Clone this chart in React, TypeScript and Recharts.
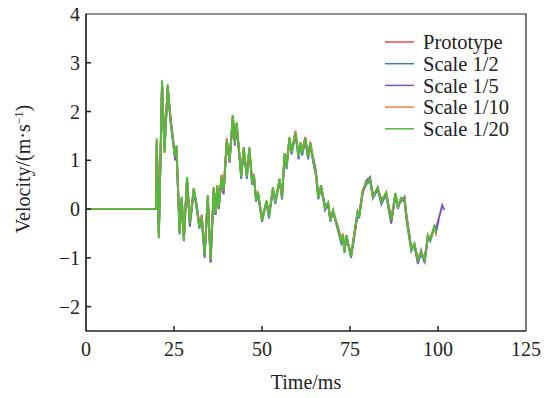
import { LineChart, Line, XAxis, YAxis, Legend, ReferenceArea } from "recharts";

// time samples (ms), shared by every series
const TIME = [
  0, 19.9,
  20.1, 20.7, 21.6, 22.3, 23.2,
  24.0, 24.9, 25.3, 25.7, 26.6,
  27.2, 27.8, 28.7, 29.5, 30.6,
  31.2, 32.2, 32.9, 33.7, 34.6,
  35.4, 36.3, 36.8, 37.3, 37.7,
  38.5, 39.1, 40.0, 40.8, 41.7,
  42.3, 42.8, 44.1, 44.8, 45.7,
  46.4, 47.2, 47.7, 48.3, 48.9,
  50.0, 51.3, 52.0, 53.1, 53.8,
  55.0, 55.7, 56.4, 57.0, 57.8,
  58.4, 59.5, 60.4, 60.9, 61.4,
  62.3, 63.1, 63.7, 64.7, 65.3,
  66.0, 66.8, 67.9, 68.8, 69.4,
  70.2, 71.5, 72.5, 73.0, 73.4,
  74.0, 75.3, 75.8, 77.2, 77.6,
  78.6, 79.6, 80.7, 81.5, 82.9,
  83.9, 85.3, 86.7, 87.9, 88.6,
  89.5, 90.5, 91.0, 92.4, 93.3,
  94.3, 95.2, 96.2, 97.1, 97.8,
  99.0, 99.5, 100.2, 101.2, 101.8,
];

const PROTOTYPE = [
  0, 0,
  1.40, -0.55, 2.60, 1.20, 2.52,
  1.85, 1.28, 1.10, 1.28, -0.45,
  0.22, -0.60, 0.62, -0.25, 0.40,
  0.18, -0.33, -0.12, -0.90, 0.25,
  -1.00, 0.42, -0.05, 0.46, 0.08,
  0.70, 0.36, 1.45, 0.96, 1.90,
  1.38, 1.74, 0.70, 1.24, 0.70,
  1.24, 0.56, 0.72, 0.22, 0.32,
  -0.20, 0.15, -0.12, 0.42, 0.18,
  0.60, 0.26, 1.12, 0.90, 1.45,
  1.18, 1.60, 1.10, 1.34, 1.18,
  1.48, 1.05, 1.38, 0.96, 0.72,
  0.26, 0.46, 0.05, 0.12, -0.20,
  -0.05, -0.36, -0.65, -0.50, -0.85,
  -0.55, -0.95, -0.72, -0.05, -0.12,
  0.36, 0.55, 0.60, 0.28, 0.42,
  0.18, 0.32, -0.20, 0.30, 0.07,
  0.20, 0.22, -0.12, -0.80, -0.72,
  -1.00, -0.90, -1.02, -0.55, -0.60,
  -0.36, -0.48, null, null, null,
];

const SCALE_2 = [
  0, 0,
  1.38, -0.58, 2.58, 1.18, 2.50,
  1.80, 1.25, 1.05, 1.25, -0.52,
  0.20, -0.66, 0.60, -0.32, 0.38,
  0.12, -0.40, -0.18, -0.96, 0.24,
  -1.08, 0.40, -0.10, 0.44, 0.02,
  0.62, 0.34, 1.38, 0.95, 1.88,
  1.30, 1.72, 0.62, 1.22, 0.62,
  1.22, 0.50, 0.66, 0.15, 0.30,
  -0.26, 0.14, -0.19, 0.40, 0.10,
  0.58, 0.20, 1.10, 0.82, 1.44,
  1.12, 1.52, 1.02, 1.32, 1.10,
  1.40, 1.02, 1.30, 0.90, 0.70,
  0.20, 0.44, -0.02, 0.10, -0.26,
  -0.06, -0.42, -0.70, -0.57, -0.90,
  -0.57, -1.00, -0.74, -0.06, -0.19,
  0.35, 0.50, 0.58, 0.22, 0.40,
  0.10, 0.30, -0.26, 0.28, 0.00,
  0.20, 0.16, -0.20, -0.86, -0.74,
  -1.08, -0.92, -1.08, -0.58, -0.66,
  -0.36, -0.46, -0.22, null, null,
];

const SCALE_5 = [
  0, 0,
  1.30, -0.50, 2.55, 1.25, 2.48,
  1.90, 1.35, 1.00, 1.20, -0.42,
  0.18, -0.58, 0.58, -0.36, 0.35,
  0.22, -0.30, -0.25, -1.00, 0.20,
  -1.10, 0.38, -0.12, 0.42, 0.00,
  0.60, 0.30, 1.35, 1.05, 1.84,
  1.42, 1.70, 0.72, 1.20, 0.72,
  1.20, 0.58, 0.64, 0.24, 0.28,
  -0.18, 0.12, -0.10, 0.36, 0.20,
  0.55, 0.28, 1.05, 0.95, 1.40,
  1.22, 1.50, 1.15, 1.30, 1.20,
  1.42, 1.12, 1.30, 1.00, 0.80,
  0.30, 0.42, 0.08, 0.08, -0.18,
  -0.08, -0.34, -0.62, -0.58, -0.82,
  -0.60, -0.92, -0.78, -0.10, -0.10,
  0.32, 0.58, 0.66, 0.30, 0.40,
  0.20, 0.28, -0.30, 0.26, 0.10,
  0.16, 0.25, -0.10, -0.78, -0.76,
  -1.12, -0.85, -1.10, -0.62, -0.58,
  -0.40, -0.38, -0.20, 0.08, -0.02,
];

const SCALE_10 = [
  0, 0,
  1.42, -0.58, 2.62, 1.16, 2.54,
  1.83, 1.30, 1.08, 1.30, -0.48,
  0.24, -0.62, 0.64, -0.28, 0.42,
  0.16, -0.36, -0.15, -0.92, 0.27,
  -1.03, 0.44, -0.07, 0.48, 0.05,
  0.68, 0.38, 1.43, 0.99, 1.92,
  1.36, 1.76, 0.68, 1.26, 0.68,
  1.26, 0.54, 0.71, 0.20, 0.34,
  -0.22, 0.17, -0.14, 0.44, 0.16,
  0.62, 0.24, 1.14, 0.88, 1.47,
  1.16, 1.58, 1.08, 1.36, 1.16,
  1.46, 1.06, 1.36, 0.95, 0.74,
  0.24, 0.48, 0.03, 0.13, -0.22,
  -0.03, -0.38, -0.67, -0.52, -0.87,
  -0.54, -0.97, -0.71, -0.03, -0.14,
  0.38, 0.54, 0.62, 0.26, 0.44,
  0.16, 0.34, -0.22, 0.32, 0.05,
  0.22, 0.21, -0.14, -0.82, -0.71,
  -1.03, -0.89, -1.04, -0.54, -0.62,
  -0.34, -0.55, null, null, null,
];

const SCALE_20 = [
  0, 0,
  1.45, -0.60, 2.64, 1.15, 2.56,
  1.82, 1.31, 1.07, 1.31, -0.50,
  0.25, -0.64, 0.66, -0.29, 0.43,
  0.15, -0.37, -0.16, -0.94, 0.29,
  -1.05, 0.45, -0.08, 0.49, 0.04,
  0.66, 0.39, 1.41, 1.00, 1.93,
  1.35, 1.78, 0.66, 1.27, 0.66,
  1.27, 0.53, 0.70, 0.18, 0.35,
  -0.23, 0.18, -0.16, 0.45, 0.14,
  0.63, 0.23, 1.15, 0.86, 1.48,
  1.15, 1.56, 1.07, 1.37, 1.15,
  1.45, 1.07, 1.35, 0.94, 0.75,
  0.23, 0.49, 0.02, 0.14, -0.23,
  -0.02, -0.39, -0.68, -0.53, -0.88,
  -0.53, -0.98, -0.70, -0.02, -0.16,
  0.39, 0.53, 0.63, 0.25, 0.45,
  0.14, 0.35, -0.23, 0.33, 0.04,
  0.23, 0.20, -0.16, -0.84, -0.70,
  -1.05, -0.88, -1.05, -0.53, -0.64,
  -0.33, -0.50, null, null, null,
];

const X_TICKS = [0, 25, 50, 75, 100, 125];
const Y_TICKS = [-2, -1, 0, 1, 2, 3, 4];
const X_DOMAIN = [0, 125];
const Y_DOMAIN = [-2.5, 4];

const SERIES = [
  { key: "p", name: "Prototype", color: "#e8484c", values: PROTOTYPE },
  { key: "s2", name: "Scale 1/2", color: "#4a72c0", values: SCALE_2 },
  { key: "s5", name: "Scale 1/5", color: "#7a55b0", values: SCALE_5 },
  { key: "s10", name: "Scale 1/10", color: "#f5823a", values: SCALE_10 },
  { key: "s20", name: "Scale 1/20", color: "#52bb3e", values: SCALE_20 },
];

const data = TIME.map((t, i) => {
  const row: Record<string, number | null> = { t };
  SERIES.forEach((s) => {
    row[s.key] = s.values[i] ?? null;
  });
  return row;
});

const FONT = "'Liberation Serif', 'Times New Roman', serif";
const INK = "#222";
const FS = 20;

const fmt = (v: number) => String(v).replace("-", "\u2212");

// tick label + a short inward tick (axis sits 10px above / 6px right of label anchor)
const XTick = ({ x, y, payload }: any) => (
  <g>
    {payload.value !== X_DOMAIN[0] && payload.value !== X_DOMAIN[1] && (
      <line x1={x} x2={x} y1={y - 10} y2={y - 15} stroke={INK} strokeWidth={1.5} />
    )}
    <text x={x} y={y} dy="0.75em" textAnchor="middle" fontFamily={FONT} fontSize={FS} fill={INK}>
      {fmt(payload.value)}
    </text>
  </g>
);

const YTick = ({ x, y, payload }: any) => (
  <g>
    {payload.value !== Y_DOMAIN[1] && (
      <line x1={x + 6} x2={x + 11} y1={y} y2={y} stroke={INK} strokeWidth={1.5} />
    )}
    <text x={x} y={y} dy="0.35em" textAnchor="end" fontFamily={FONT} fontSize={FS} fill={INK}>
      {fmt(payload.value)}
    </text>
  </g>
);

const LegendBox = () => (
  <svg width={170} height={112} style={{ display: "block" }}>
    {SERIES.map((s, i) => {
      const cy = 11 + i * 21.7;
      return (
        <g key={s.key}>
          <line x1={0} x2={29} y1={cy} y2={cy} stroke={s.color} strokeWidth={1.5} />
          <text x={38} y={cy} dy="0.35em" fontFamily={FONT} fontSize={20.5} fill={INK}>
            {s.name}
          </text>
        </g>
      );
    })}
  </svg>
);

const YTitle = () => (
  <text
    transform="translate(30 169) rotate(-90)"
    textAnchor="middle"
    fontFamily={FONT}
    fontSize={FS}
    fill={INK}
  >
    Velocity/(m·s
    <tspan dy={-7} fontSize={12}>
      {"\u22121"}
    </tspan>
    <tspan dy={7}>)</tspan>
  </text>
);

const XTitle = () => (
  <text x={306} y={389} textAnchor="middle" fontFamily={FONT} fontSize={FS} fill={INK}>
    Time/ms
  </text>
);

export default function App() {
  // cancel the body margin so the chart covers the whole 550x398 page
  return (
    <div style={{ margin: "-8px 0 0 -8px", width: 550, height: 398 }}>
      <LineChart
        width={550}
        height={398}
        data={data}
        margin={{ top: 14, right: 24, bottom: 0, left: 0 }}
      >
        <XAxis
          dataKey="t"
          type="number"
          domain={X_DOMAIN}
          ticks={X_TICKS}
          height={67}
          stroke={INK}
          strokeWidth={1.2}
          tickLine={false}
          tickSize={1}
          tickMargin={9}
          tick={<XTick />}
          label={<XTitle />}
        />
        <YAxis
          type="number"
          domain={Y_DOMAIN}
          ticks={Y_TICKS}
          width={86}
          stroke={INK}
          strokeWidth={1.2}
          tickLine={false}
          tickSize={1}
          tickMargin={5}
          tick={<YTick />}
          allowDataOverflow
          label={<YTitle />}
        />
        {/* plot frame (top and right edges) */}
        <ReferenceArea
          x1={X_DOMAIN[0]}
          x2={X_DOMAIN[1]}
          y1={Y_DOMAIN[0]}
          y2={Y_DOMAIN[1]}
          fill="none"
          fillOpacity={0}
          stroke={INK}
          strokeWidth={1.2}
          ifOverflow="visible"
        />
        <Legend
          layout="vertical"
          align="center"
          verticalAlign="middle"
          content={<LegendBox />}
          wrapperStyle={{ left: 385, top: 31, width: 170, height: 112 }}
        />
        {SERIES.map((s) => (
          <Line
            key={s.key}
            dataKey={s.key}
            name={s.name}
            type="linear"
            stroke={s.color}
            strokeWidth={1.9}
            dot={false}
            activeDot={false}
            isAnimationActive={false}
          />
        ))}
      </LineChart>
    </div>
  );
}
